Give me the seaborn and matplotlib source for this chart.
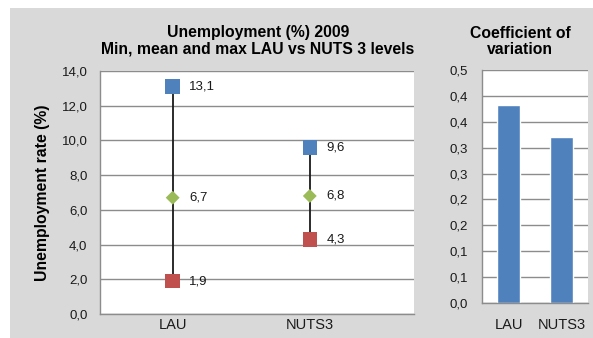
import math
import numpy as np
import pandas as pd
import seaborn as sns
import matplotlib
matplotlib.use("Agg")
import matplotlib.pyplot as plt
from matplotlib.patches import Rectangle
from matplotlib.ticker import FuncFormatter, MultipleLocator

# ---- data ----
levels = ["LAU", "NUTS3"]
min_vals = [1.9, 4.3]
mean_vals = [6.7, 6.8]
max_vals = [13.1, 9.6]
cv_vals = [0.383, 0.321]

sns.set_theme(style="white")
plt.rcParams["font.family"] = ["Liberation Sans", "DejaVu Sans"]

BLUE = "#4f81bd"
RED = "#c0504d"
GREEN = "#9bbb59"
GRID = "#8c8c8c"
TXT = "#1a1a1a"
TICK_FS = 9.5
XTICK_FS = 10.5
TITLE_FS = 11.3

fig = plt.figure(figsize=(5.93, 3.38), dpi=100)
fig.patch.set_facecolor("white")
fig.patches.append(Rectangle((10 / 593, 0), 1, (338 - 8) / 338, transform=fig.transFigure,
                             facecolor="#d9d9d9", edgecolor="none", zorder=-10))

def comma(v, nd=1):
    r = math.floor(v * 10 ** nd + 0.5 + 1e-9) / 10 ** nd
    return f"{r:.{nd}f}".replace(".", ",")

# ---- left panel ----
axL = fig.add_axes([100 / 593, (338 - 314) / 338, 314 / 593, (314 - 71) / 338])
axL.set_facecolor("white")
df = pd.DataFrame({"level": levels, "min": min_vals, "mean": mean_vals, "max": max_vals})
xpos = np.arange(len(levels))
axL.vlines(xpos, df["min"], df["max"], color="#1a1a1a", linewidth=1.3, zorder=2)
sns.scatterplot(data=df, x="level", y="max", marker="s", s=110, color=BLUE,
                edgecolor="none", ax=axL, zorder=3)
sns.scatterplot(data=df, x="level", y="min", marker="s", s=110, color=RED,
                edgecolor="none", ax=axL, zorder=3)
sns.scatterplot(data=df, x="level", y="mean", marker="D", s=50, color=GREEN,
                edgecolor="none", ax=axL, zorder=3)
for i in range(len(levels)):
    for col in ("max", "mean", "min"):
        v = df[col][i]
        axL.annotate(comma(v), (xpos[i], v), xytext=(12, 0), textcoords="offset points",
                     va="center", ha="left", fontsize=TICK_FS, color=TXT)
axL.set_xlim(-0.53, 1.76)
axL.set_ylim(0, 14)
axL.yaxis.set_major_locator(MultipleLocator(2))
axL.yaxis.set_major_formatter(FuncFormatter(lambda v, p: comma(v)))
axL.set_xticks(xpos)
axL.set_xticklabels(levels)
axL.set_xlabel("")
axL.set_ylabel("")
axL.grid(axis="y", color=GRID, linewidth=1)
axL.set_axisbelow(True)
for s in ("top", "right"):
    axL.spines[s].set_visible(False)
for s in ("left", "bottom"):
    axL.spines[s].set_color(GRID)
    axL.spines[s].set_linewidth(1)
axL.tick_params(axis="y", length=0, pad=9, labelsize=TICK_FS, labelcolor=TXT)
axL.tick_params(axis="x", length=0, pad=3, labelsize=XTICK_FS, labelcolor=TXT)

fig.text(258 / 593, 1 - 40.5 / 338, "Unemployment (%) 2009\nMin, mean and max LAU vs NUTS 3 levels",
         ha="center", va="center", fontsize=TITLE_FS, fontweight="bold", color="black", linespacing=1.15)
fig.text(42 / 593, 1 - 193 / 338, "Unemployment rate (%)", rotation=90, ha="center", va="center",
         fontsize=TITLE_FS, fontweight="bold", color="black")

# ---- right panel ----
axR = fig.add_axes([482 / 593, (338 - 303) / 338, 106 / 593, (303 - 70) / 338])
axR.set_facecolor("white")
dcv = pd.DataFrame({"level": levels, "cv": cv_vals})
sns.barplot(data=dcv, x="level", y="cv", color=BLUE, saturation=1, width=0.42, ax=axR, zorder=2)
axR.set_xlim(-0.5, 1.5)
axR.set_ylim(0, 0.45)
axR.set_yticks(np.arange(0, 0.451, 0.05))
axR.yaxis.set_major_formatter(FuncFormatter(lambda v, p: comma(v)))
axR.set_xlabel("")
axR.set_ylabel("")
axR.grid(axis="y", color=GRID, linewidth=1)
axR.set_axisbelow(True)
for s in ("top", "right"):
    axR.spines[s].set_visible(False)
for s in ("left", "bottom"):
    axR.spines[s].set_color(GRID)
    axR.spines[s].set_linewidth(1)
axR.tick_params(axis="y", length=0, pad=10, labelsize=TICK_FS, labelcolor=TXT)
axR.tick_params(axis="x", length=0, pad=11, labelsize=XTICK_FS, labelcolor=TXT)

fig.text(520 / 593, 1 - 41.5 / 338, "Coefficient of\nvariation", ha="center", va="center",
         fontsize=TITLE_FS, fontweight="bold", color="black", linespacing=1.15)

fig.savefig("out.png", dpi=100)
